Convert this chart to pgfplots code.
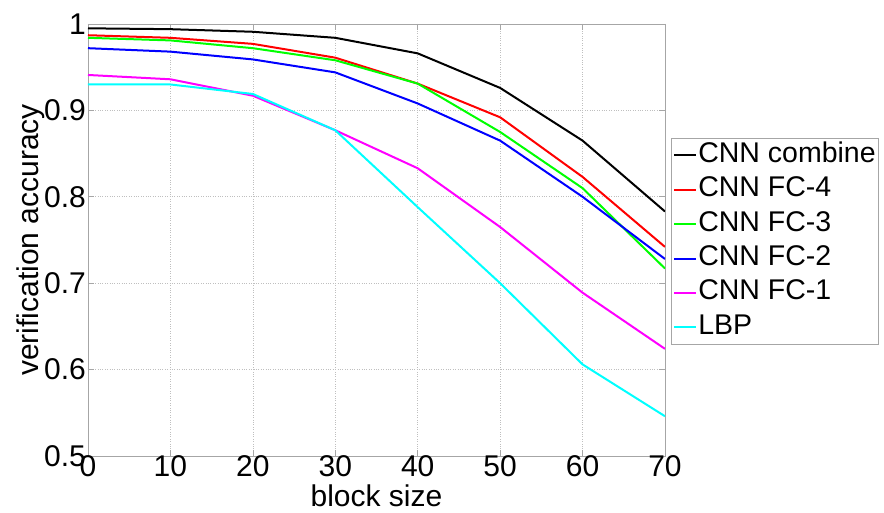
\documentclass[border=0pt]{standalone}
\usepackage{pgfplots}
\pgfplotsset{compat=1.18}
\usepackage{fontspec}
\setmainfont{Liberation Sans}
\definecolor{mgreen}{rgb}{0,1,0}
\definecolor{mcyan}{rgb}{0,1,1}
\definecolor{mmagenta}{rgb}{1,0,1}
\definecolor{mred}{rgb}{1,0,0}
\definecolor{mblue}{rgb}{0,0,1}
\begin{document}
\begin{tikzpicture}
\begin{axis}[
  scale only axis,
  width=577pt, height=432pt,
  xmin=0, xmax=70, ymin=0.5, ymax=1,
  xtick={0,10,...,70},
  ytick={0.5,0.6,0.7,0.8,0.9,1},
  yticklabels={0.5,0.6,0.7,0.8,0.9,1},
  /pgf/number format/assume math mode=true,
  tick label style={font=\fontsize{30}{36}\selectfont, inner sep=0pt},
  xticklabel style={anchor=base, yshift=-21pt},
  yticklabel style={anchor=east, xshift=-2pt},
  tick align=inside,
  major tick length=6pt,
  tick style={gray!70, line width=0.6pt},
  axis line style={gray!70, line width=0.8pt},
  grid=major,
  grid style={dotted, gray!50, line width=0.6pt},
  xlabel={block size},
  ylabel={verification accuracy},
  label style={font=\fontsize{30}{36}\selectfont, inner sep=0pt},
  xlabel style={at={(axis description cs:0.5,0)}, anchor=base, yshift=-51pt},
  ylabel style={at={(axis description cs:-0.085,0.5)}, anchor=base, rotate=0},
  legend cell align=left,
  legend image code/.code={\draw[#1] (0pt,0pt) -- (22pt,0pt);},
  legend style={at={(axis description cs:1.0104,0.736)}, anchor=north west,
    draw=gray!70, line width=0.6pt, inner xsep=2pt, inner ysep=3pt,
    font=\fontsize{28.5}{34}\selectfont, row sep=6.4pt,
    nodes={inner xsep=1pt, inner ysep=0pt, text height=21pt, text depth=7pt}},
  every axis plot/.append style={line width=2pt},
]
\addplot[black] coordinates {(0,0.995)(10,0.994)(20,0.991)(30,0.984)(40,0.966)(50,0.926)(60,0.865)(70,0.783)};
\addlegendentry{CNN combine}
\addplot[mred] coordinates {(0,0.987)(10,0.984)(20,0.977)(30,0.961)(40,0.931)(50,0.892)(60,0.823)(70,0.742)};
\addlegendentry{CNN FC-4}
\addplot[mgreen] coordinates {(0,0.984)(10,0.981)(20,0.972)(30,0.958)(40,0.931)(50,0.875)(60,0.810)(70,0.717)};
\addlegendentry{CNN FC-3}
\addplot[mblue] coordinates {(0,0.972)(10,0.968)(20,0.959)(30,0.944)(40,0.908)(50,0.865)(60,0.800)(70,0.728)};
\addlegendentry{CNN FC-2}
\addplot[mmagenta] coordinates {(0,0.941)(10,0.936)(20,0.917)(30,0.877)(40,0.833)(50,0.765)(60,0.689)(70,0.624)};
\addlegendentry{CNN FC-1}
\addplot[mcyan] coordinates {(0,0.930)(10,0.930)(20,0.919)(30,0.877)(40,0.788)(50,0.700)(60,0.606)(70,0.546)};
\addlegendentry{LBP}
\end{axis}
\pgfresetboundingbox
\path (-88pt,-57pt) rectangle (796pt,456pt);
\end{tikzpicture}
\end{document}
